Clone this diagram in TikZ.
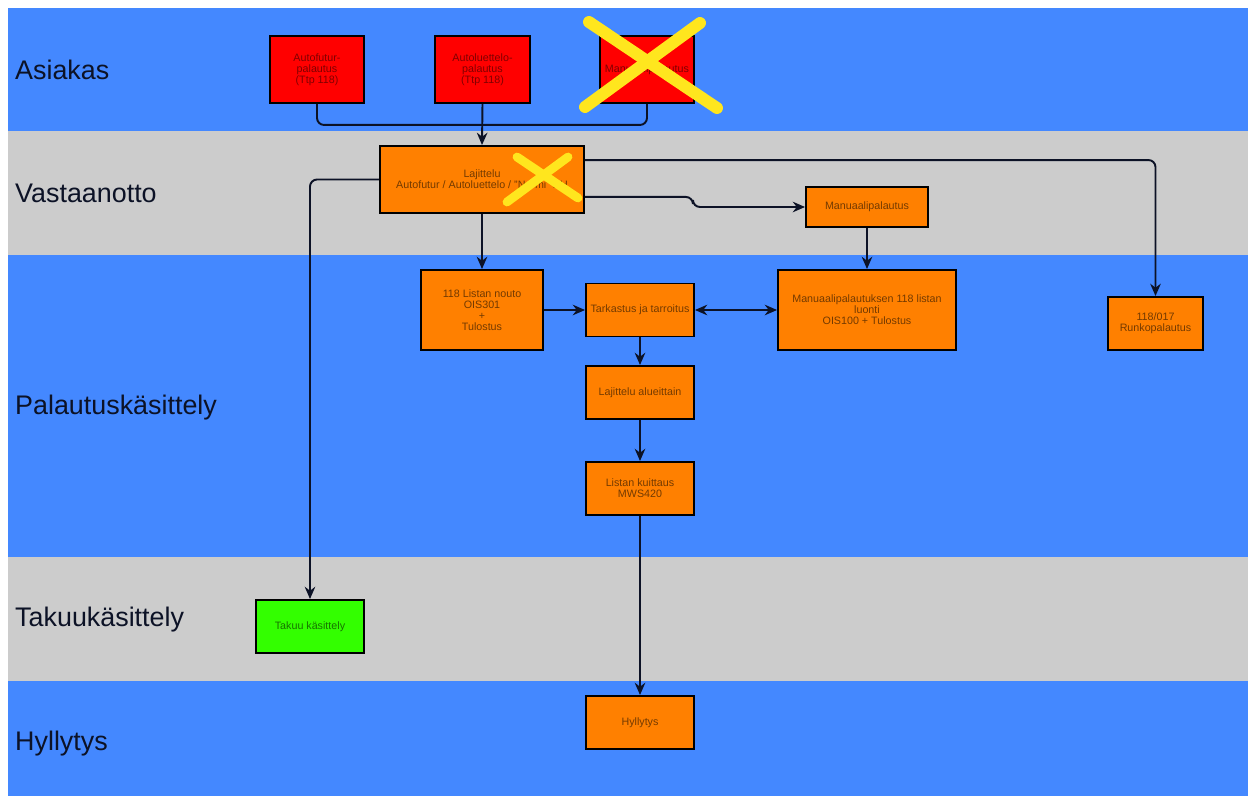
\documentclass[tikz,border=0pt]{standalone}
\usepackage{fontspec}
\setmainfont{Liberation Sans}
\usetikzlibrary{calc,arrows.meta}

\definecolor{kaistaSini}{HTML}{4488FF}
\definecolor{kaistaHarmaa}{HTML}{CCCCCC}
\definecolor{laatikkoOranssi}{HTML}{FF8000}
\definecolor{laatikkoPuna}{HTML}{FF0000}
\definecolor{laatikkoVihrea}{HTML}{33FF00}
\definecolor{ruksi}{HTML}{FFE61E}
\definecolor{viiva}{HTML}{0C1226}

\tikzset{
  kaista/.style={anchor=west,font=\fontsize{15.3}{17}\selectfont,text=viiva},
  laatikko/.style={draw=black,line width=1.1pt,align=center,inner sep=1pt,
                   font=\fontsize{6.1}{6.3}\selectfont},
  punainen/.style={laatikko,fill=laatikkoPuna,text=laatikkoPuna!50!black},
  oranssi/.style={laatikko,fill=laatikkoOranssi,text=laatikkoOranssi!45!black},
  vihrea/.style={laatikko,fill=laatikkoVihrea,text=laatikkoVihrea!45!black},
  yhteys/.style={draw=viiva,line width=1.1pt,rounded corners=4pt},
  ruksiviiva/.style={draw=ruksi,line cap=round}
}

\begin{document}
\begin{tikzpicture}[x=0.02cm,y=-0.02cm,>={Stealth[length=7pt,width=6pt]}]

  \useasboundingbox (0,0) rectangle (1248,798);

  \begin{scope}   % kaistat
    \fill[kaistaSini]   (8,8)   rectangle (1248,131);
    \fill[kaistaHarmaa] (8,131) rectangle (1248,255);
    \fill[kaistaSini]   (8,255) rectangle (1248,557);
    \fill[kaistaHarmaa] (8,557) rectangle (1248,681);
    \fill[kaistaSini]   (8,681) rectangle (1248,796);

    \node[kaista] (kAsiakas)  at (9,70)  {Asiakas};
    \node[kaista] (kVastaan)  at (9,193) {Vastaanotto};
    \node[kaista] (kPalautus) at (9,408) {Palautuskäsittely};
    \node[kaista] (kTakuu)    at (9,620) {Takuukäsittely};
    \node[kaista] (kHylly)    at (9,744) {Hyllytys};
  \end{scope}

  \begin{scope}   % asiakkaan palautukset
    \node[punainen,minimum width=1.88cm,minimum height=1.34cm] (futur)
         at (317,69.5) {Autofutur-\\palautus\\(Ttp 118)};
    \node[punainen,minimum width=1.9cm,minimum height=1.34cm] (luettelo)
         at (482.5,69.5) {Autoluettelo-\\palautus\\(Ttp 118)};
    \node[punainen,minimum width=1.88cm,minimum height=1.34cm] (manu)
         at (647,69.5) {Manuaalipalautus};
  \end{scope}

  \begin{scope}   % vastaanotto
    \node[oranssi,minimum width=4.08cm,minimum height=1.34cm] (lajittelu)
         at (482,179.5) {Lajittelu\\Autofutur / Autoluettelo / "Normi" PH};
    \node[oranssi,minimum width=2.44cm,minimum height=0.8cm] (manuaali)
         at (867,207) {Manuaalipalautus};
  \end{scope}

  \begin{scope}   % palautuskasittely
    \node[oranssi,minimum width=2.44cm,minimum height=1.6cm] (nouto)
         at (482,310) {118 Listan nouto\\OIS301\\+\\Tulostus};
    \node[oranssi,minimum width=2.16cm,minimum height=1.06cm] (tarkastus)
         at (640,310) {Tarkastus ja tarroitus};
    \node[oranssi,minimum width=3.56cm,minimum height=1.6cm] (luonti)
         at (867,310) {Manuaalipalautuksen 118 listan\\luonti\\OIS100 + Tulostus};
    \node[oranssi,minimum width=1.9cm,minimum height=1.06cm] (runko)
         at (1155.5,323.5) {118/017\\Runkopalautus};
    \node[oranssi,minimum width=2.16cm,minimum height=1.06cm] (alueittain)
         at (640,392.5) {Lajittelu alueittain};
    \node[oranssi,minimum width=2.16cm,minimum height=1.06cm] (kuittaus)
         at (640,488.5) {Listan kuittaus\\MWS420};
  \end{scope}

  \node[vihrea,minimum width=2.16cm,minimum height=1.06cm] (takuu)
       at (310,626.5) {Takuu käsittely};
  \node[oranssi,minimum width=2.16cm,minimum height=1.06cm] (hylly)
       at (640,722.5) {Hyllytys};

  \begin{scope}   % yhteydet
    \coordinate (yhdys) at ($(luettelo.south)+(0,21)$);
    \draw[yhteys] (futur.south) |- (yhdys);
    \draw[yhteys] (manu.south) |- (yhdys);
    \draw[yhteys,->] (luettelo.south) -- (lajittelu.north);

    \coordinate (lajA) at ($(lajittelu.south east)+(0,-17)$);
    \coordinate (lajY) at ($(lajittelu.north east)+(0,15)$);
    \draw[yhteys,->] (lajittelu.west) -| (takuu.north);
    \draw[yhteys,->] (lajittelu.south) -- (nouto.north);
    \draw[yhteys,->] (lajA) -- ++(108,0) |- (manuaali.west);
    \draw[yhteys,->] (lajY) -| (runko.north);

    \draw[yhteys,->] (manuaali.south) -- (luonti.north);
    \draw[yhteys,->] (nouto.east) -- (tarkastus.west);
    \draw[yhteys,<->] (tarkastus.east) -- (luonti.west);
    \draw[yhteys,->] (tarkastus.south) -- (alueittain.north);
    \draw[yhteys,->] (alueittain.south) -- (kuittaus.north);
    \draw[yhteys,->] (kuittaus.south) -- (hylly.north);
  \end{scope}

  \begin{scope}   % poistetut vaiheet ruksattu yli
    \draw[ruksiviiva,line width=6.8pt] (589,22) -- (717,108);
    \draw[ruksiviiva,line width=6.8pt] (700,23) -- (585,107);
    \draw[ruksiviiva,line width=5pt] (517,157) -- (578,198);
    \draw[ruksiviiva,line width=5pt] (568,157) -- (507,202);
  \end{scope}

\end{tikzpicture}
\end{document}
